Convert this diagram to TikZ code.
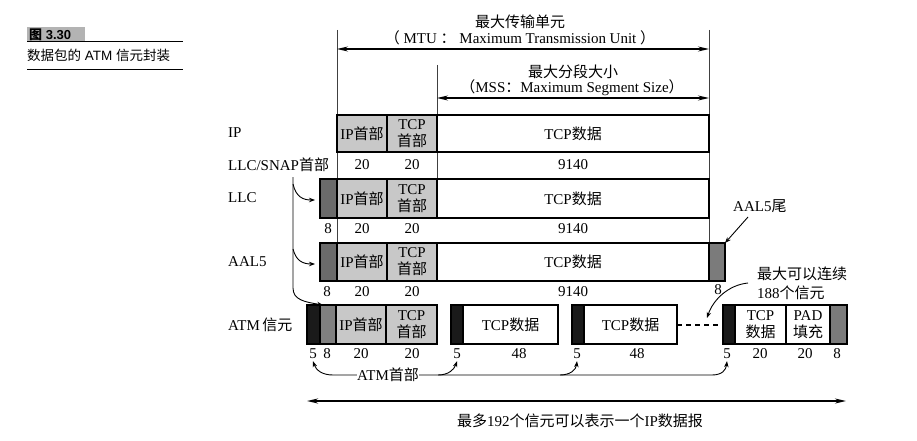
\documentclass[tikz,border=0pt]{standalone}
\usepackage{fontspec}
\setmainfont{Liberation Serif}
\setsansfont{Liberation Sans}
\newfontfamily\cjk{Noto Sans CJK SC}
\newcommand\zh[1]{{\cjk #1}}
\usetikzlibrary{arrows.meta}
\definecolor{hdr}{HTML}{C8C8C8}
\definecolor{snap}{HTML}{6B6B6B}
\definecolor{trail}{HTML}{7B7B7B}
\definecolor{atmh}{HTML}{1A1A1A}
\definecolor{atms}{HTML}{808080}
\definecolor{capgray}{HTML}{B3B3B3}
\newcommand\seg[7]{\node[seg, fill=#6, minimum width=#4pt, minimum height=#5pt] (#1) at (#2,#3) {#7};}
\begin{document}
\begin{tikzpicture}[x=1pt,y=-1pt, font=\fontsize{15}{17}\selectfont,
  seg/.style={draw=black, line width=1.1pt, inner sep=0pt, outer sep=0pt, anchor=north west, align=center},
  lbl/.style={inner sep=0pt},
  rowlbl/.style={inner sep=0pt, anchor=west},
  guide/.style={line width=0.6pt, draw=black!75},
  dim/.style={line width=1.3pt, {Stealth[length=11pt,width=5pt]}-{Stealth[length=11pt,width=5pt]}},
  ptr/.style={line width=0.9pt, -{Stealth[length=6pt,width=4.5pt]}},
]
\fill[white] (0,0) rectangle (917,441);
\useasboundingbox (0,0) rectangle (917,441);

% caption
\fill[capgray] (27,27) rectangle (85,41);
\node[rowlbl, font=\sffamily\bfseries\fontsize{13}{14}\selectfont] (capnum) at (29,34.5) {\zh{图} 3.30};
\draw[line width=0.8pt] (27,41) -- (183,41);
\node[rowlbl, font=\sffamily\fontsize{13.5}{15}\selectfont] (captxt) at (27,55) {\zh{数据包的} ATM \zh{信元封装}};
\draw[line width=0.8pt] (27,69) -- (183,69);

% guides
\coordinate (gA1) at (337,30); \coordinate (gA2) at (337,243);
\coordinate (gB1) at (709,30); \coordinate (gB2) at (709,243);
\coordinate (gC1) at (437,65); \coordinate (gC2) at (437,179);
\draw[guide] (gA1) -- (gA2);
\draw[guide] (gB1) -- (gB2);
\draw[guide] (gC1) -- (gC2);

% MTU / MSS
\node[lbl] (mtu1) at (520,22) {\zh{最大传输单元}};
\node[lbl] (mtu2) at (520,38) {\zh{（} MTU \zh{：} Maximum Transmission Unit \zh{）}};
\coordinate (mtuL) at (337,49); \coordinate (mtuR) at (709,49);
\draw[dim] (mtuL) -- (mtuR);
\node[lbl] (mss1) at (573,72) {\zh{最大分段大小}};
\node[lbl] (mss2) at (572,88) {\zh{（}MSS\zh{：}Maximum Segment Size\zh{）}};
\coordinate (mssL) at (437,98); \coordinate (mssR) at (709,98);
\draw[dim] (mssL) -- (mssR);

% row labels
\node[rowlbl] (lIP) at (228,133) {IP};
\node[rowlbl] (lSNAP) at (228,165) {LLC/SNAP\zh{首部}};
\node[rowlbl] (lLLC) at (228,198) {LLC};
\node[rowlbl] (lAAL) at (228,262) {AAL5};
\node[rowlbl] (lATM) at (228,325) {ATM\,\zh{信元}};

% IP row
\seg{ipH}{337}{115}{50}{37}{hdr}{IP\zh{首部}}
\seg{ipT}{387}{115}{50}{37}{hdr}{TCP\\\zh{首部}}
\seg{ipD}{437}{115}{272}{37}{white}{TCP\zh{数据}}
\node[lbl] (n11) at (362,165) {20};
\node[lbl] (n12) at (412,165) {20};
\node[lbl] (n13) at (573,165) {9140};

% LLC row
\seg{llcS}{320}{179}{17}{39}{snap}{}
\seg{llcH}{337}{179}{50}{39}{hdr}{IP\zh{首部}}
\seg{llcT}{387}{179}{50}{39}{hdr}{TCP\\\zh{首部}}
\seg{llcD}{437}{179}{272}{39}{white}{TCP\zh{数据}}
\node[lbl] (n20) at (328,229) {8};
\node[lbl] (n21) at (362,229) {20};
\node[lbl] (n22) at (412,229) {20};
\node[lbl] (n23) at (573,229) {9140};

% AAL5 row
\seg{aS}{320}{243}{17}{38}{snap}{}
\seg{aH}{337}{243}{50}{38}{hdr}{IP\zh{首部}}
\seg{aT}{387}{243}{50}{38}{hdr}{TCP\\\zh{首部}}
\seg{aD}{437}{243}{272}{38}{white}{TCP\zh{数据}}
\seg{aE}{709}{243}{16}{38}{trail}{}
\node[lbl] (n30) at (327,292) {8};
\node[lbl] (n31) at (362,292) {20};
\node[lbl] (n32) at (412,292) {20};
\node[lbl] (n33) at (573,292) {9140};
\node[lbl] (n34) at (718,290) {8};

% ATM row
\seg{c1h}{307}{305}{13}{39}{atmh}{}
\seg{c1s}{320}{305}{16}{39}{atms}{}
\seg{c1i}{336}{305}{50}{39}{hdr}{IP\zh{首部}}
\seg{c1t}{386}{305}{51}{39}{hdr}{TCP\\\zh{首部}}
\seg{c2h}{451}{305}{12}{39}{atmh}{}
\seg{c2d}{463}{305}{95}{39}{white}{TCP\zh{数据}}
\seg{c3h}{572}{305}{12}{39}{atmh}{}
\seg{c3d}{584}{305}{93}{39}{white}{TCP\zh{数据}}
\seg{c4h}{723}{305}{12}{39}{atmh}{}
\seg{c4d}{735}{305}{51}{39}{white}{TCP\\\zh{数据}}
\seg{c4p}{786}{305}{44}{39}{white}{PAD\\\zh{填充}}
\seg{c4t}{830}{305}{17}{39}{trail}{}
\draw[line width=2pt, dash pattern=on 5pt off 4pt] (c3d.east) -- (c4h.west);

\node[lbl] (m1) at (313,354) {5};
\node[lbl] (m2) at (327,354) {8};
\node[lbl] (m3) at (361,354) {20};
\node[lbl] (m4) at (412,354) {20};
\node[lbl] (m5) at (457,354) {5};
\node[lbl] (m6) at (519,354) {48};
\node[lbl] (m7) at (577,354) {5};
\node[lbl] (m8) at (637,354) {48};
\node[lbl] (m9) at (727,354) {5};
\node[lbl] (m10) at (760,354) {20};
\node[lbl] (m11) at (805,354) {20};
\node[lbl] (m12) at (837,354) {8};

% LLC/SNAP pointers
\coordinate (sv0) at (293,177);
\coordinate (sv1) at (293,288);
\coordinate (sb1) at (293,184);
\coordinate (sb2) at (293,249);
\draw[ptr] (sv0) -- (sv1) .. controls (293,300) and (305,302) .. (323,305);
\draw[ptr] (sb1) .. controls (296,197) and (303,200) .. (315,200);
\draw[ptr] (sb2) .. controls (296,261) and (303,264) .. (315,264);

% AAL5 trailer label
\node[rowlbl] (aal5t) at (733,206) {AAL5\zh{尾}};
\coordinate (at0) at (748,217);
\draw[ptr] (at0) -- (aE.north east);

% max 188 cells
\node[rowlbl] (max1) at (757,274) {\zh{最大可以连续}};
\node[rowlbl] (max2) at (757,293) {188\zh{个信元}};
\coordinate (mx0) at (748,283);
\coordinate (mx1) at (707,318);
\draw[ptr] (mx0) .. controls (728,285) and (713,300) .. (mx1);

% ATM header pointers
\node[lbl] (atmlbl) at (388,375) {ATM\zh{首部}};
\coordinate (j1) at (438,375);
\coordinate (j2) at (560,375);
\draw[ptr] (atmlbl.west) -- (333,375) .. controls (322,375) and (316,370) .. ([yshift=-2pt]m1.south);
\draw[ptr] (atmlbl.east) -- (j1) .. controls (448,375) and (454,370) .. ([yshift=-2pt]m5.south);
\draw[ptr] (j1) -- (j2) .. controls (570,375) and (576,370) .. ([yshift=-2pt]m7.south);
\draw[ptr] (j2) -- (712,375) .. controls (722,375) and (726,370) .. ([yshift=-2pt]m9.south);

% bottom span
\coordinate (bL) at (307,401); \coordinate (bR) at (846,401);
\draw[dim, line width=1.7pt] (bL) -- (bR);
\node[lbl] (btxt) at (580,421) {\zh{最多}192\zh{个信元可以表示一个}IP\zh{数据报}};
\end{tikzpicture}
\end{document}
